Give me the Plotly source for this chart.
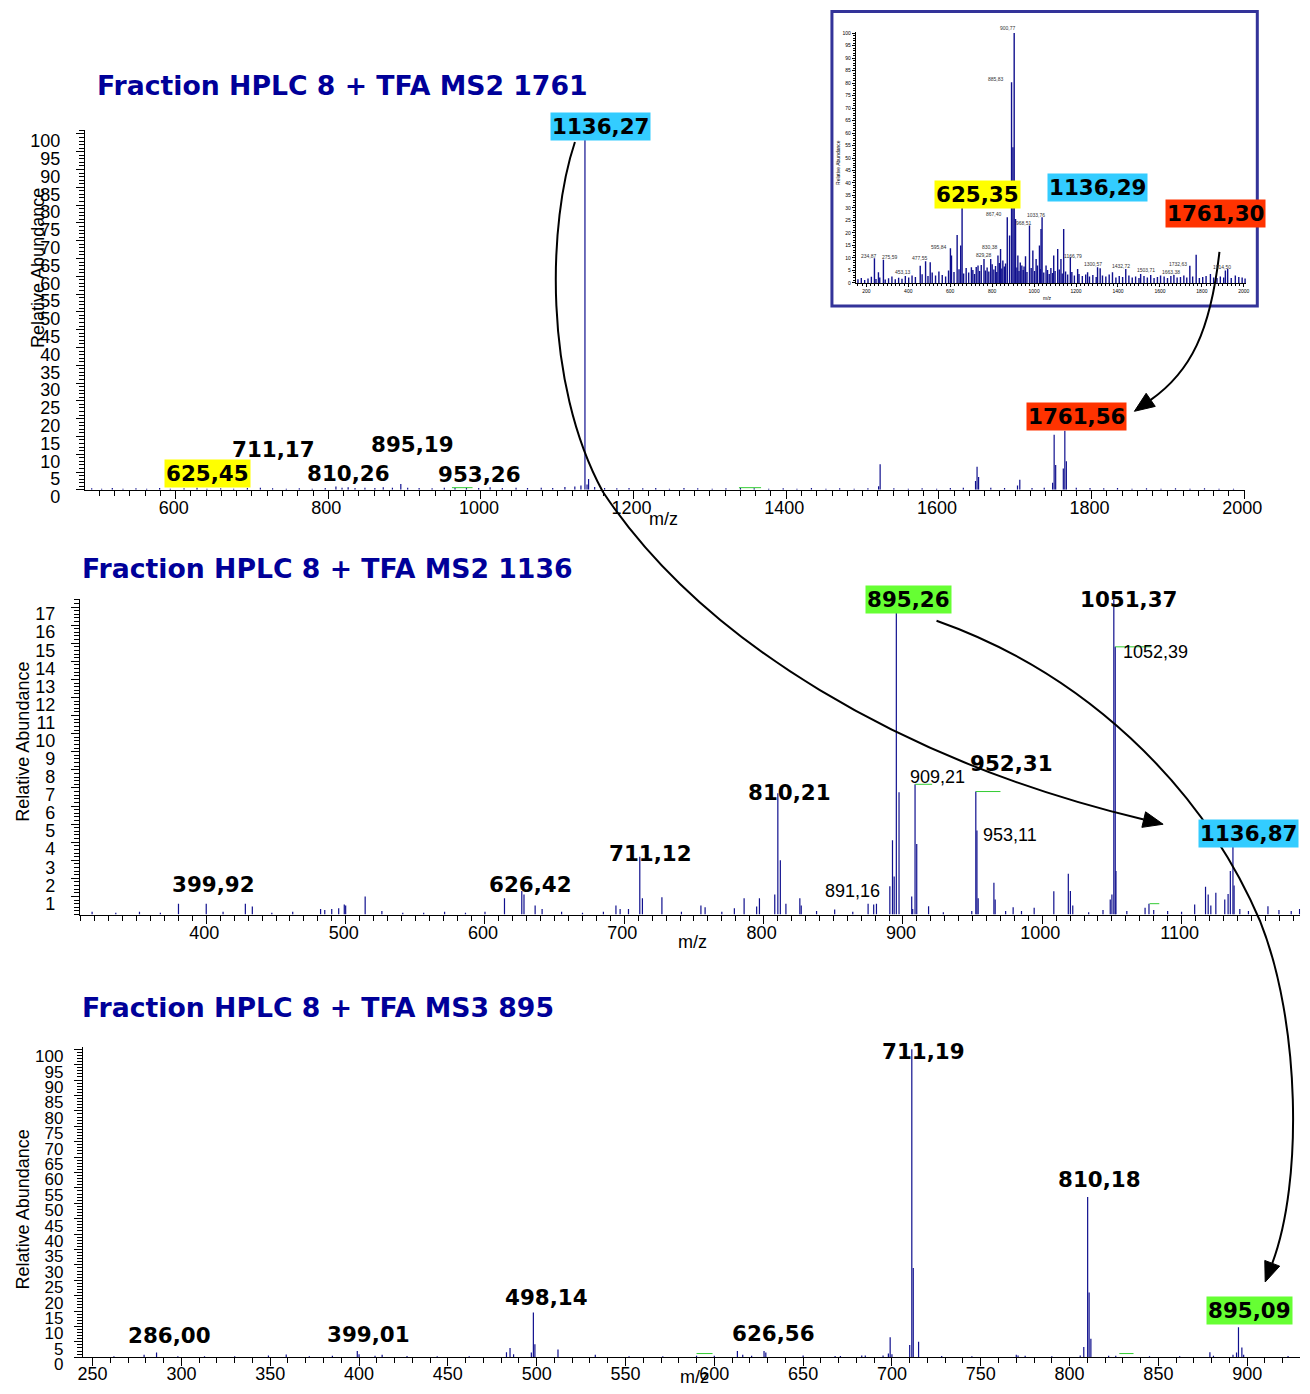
import plotly.graph_objects as go

# full-size figure; positions below are written in reference-picture pixels
W, H = 1310, 1394
S, OFF = 0.987, 7.9     # picture = S * (figure + 8)  (measured)

# ---------------- data ----------------
# Top panel: Fraction HPLC 8 + TFA MS2 1761
ms2_1761_mz = [490, 503, 517, 531, 548, 562, 579, 593, 611, 628, 641, 659, 676, 694, 711, 727, 745,
               762, 779, 796, 810, 818, 826, 835, 848, 861, 872, 884, 895, 904, 919, 936, 952, 966,
               981, 997, 1012, 1028, 1046, 1061, 1079, 1094, 1110, 1123, 1131, 1136.27, 1139, 1141,
               1149, 1162, 1178, 1194, 1212, 1229, 1247, 1266, 1284, 1303, 1321, 1340, 1358, 1377,
               1396, 1414, 1433, 1452, 1470, 1489, 1507, 1521, 1523, 1541, 1560, 1578, 1597, 1615,
               1632, 1648, 1650, 1652, 1668, 1686, 1703, 1706, 1722, 1738, 1749, 1751, 1753, 1763,
               1765, 1767, 1780, 1798, 1816, 1834, 1853, 1872, 1891, 1910, 1929, 1948, 1967, 1986]
ms2_1761_int = [0.4, 0.3, 0.5, 0.3, 0.4, 0.3, 0.5, 0.3, 0.4, 0.6, 0.3, 0.4, 0.3, 0.5, 0.6, 0.4, 0.3,
                0.4, 0.3, 0.5, 0.9, 0.6, 0.7, 0.5, 0.6, 0.5, 0.7, 0.6, 1.6, 0.6, 0.5, 0.4, 0.6, 0.5,
                0.6, 0.5, 0.7, 0.5, 0.6, 0.5, 0.6, 0.5, 0.8, 0.9, 1.2, 100, 1.5, 3.0,
                0.8, 0.5, 0.4, 0.5, 0.4, 0.5, 0.3, 0.5, 0.4, 0.3, 0.4, 0.5, 0.4, 0.3,
                0.4, 0.3, 0.5, 0.3, 0.4, 0.3, 0.4, 1.0, 7.2, 0.4, 0.3, 0.4, 0.3, 0.5,
                0.6, 2.5, 6.5, 3.6, 0.6, 0.5, 1.2, 2.8, 0.5, 0.6, 2.0, 15.5, 7.0, 6.0,
                16.6, 8.0, 0.6, 0.5, 0.4, 0.5, 0.3, 0.4, 0.3, 0.4, 0.3, 0.4, 0.3, 0.3]

# Middle panel: Fraction HPLC 8 + TFA MS2 1136
ms2_1136_mz = [318, 335, 352, 367, 380, 399.92, 412, 428, 433, 447, 462, 482, 485, 490, 495, 499,
               500, 514, 526, 541, 556, 571, 586, 600, 614, 626.42, 628, 636, 641, 655, 670, 685,
               694, 697, 703, 711.12, 713, 727, 741, 755, 758, 770, 779, 786, 795, 797, 808, 810.21,
               812, 816, 826, 827, 838, 851, 864, 875, 879, 881, 890.6, 892.5, 893.7, 895.26, 897.2,
               906.3, 907, 908.7, 909.9, 918.4, 929, 949.4, 952.31, 953.11, 954, 965.3, 966.2, 973.7,
               979.1, 985.1, 994.2, 1008.3, 1018.7, 1020.2, 1021.9, 1033.3, 1043.6, 1048.8, 1050,
               1051.37, 1052.39, 1052.9, 1060.7, 1073.8, 1076.6, 1080, 1090, 1100, 1109.4, 1117.2,
               1119.1, 1121, 1124.6, 1131, 1133.4, 1135, 1136.87, 1137.7, 1141.8, 1148, 1162,
               1169.9, 1178.7, 1184.7]
ms2_1136_int = [0.15, 0.1, 0.15, 0.1, 0.6, 0.6, 0.15, 0.6, 0.45, 0.1, 0.15, 0.3, 0.25, 0.3, 0.35, 0.55,
                0.5, 1.0, 0.2, 0.1, 0.1, 0.15, 0.1, 0.15, 0.9, 1.3, 1.1, 0.5, 0.3, 0.15, 0.1, 0.15,
                0.5, 0.3, 0.3, 3.2, 0.9, 0.95, 0.15, 0.5, 0.4, 0.15, 0.35, 0.9, 0.45, 0.9, 1.1, 6.7,
                3.0, 0.6, 0.9, 0.5, 0.2, 0.28, 0.15, 0.6, 0.55, 0.6, 1.56, 4.1, 2.1, 16.75, 6.76,
                1.0, 0.3, 7.2, 3.9, 0.46, 0.13, 0.2, 6.8, 4.64, 0.9, 1.75, 0.83, 0.2,
                0.4, 0.2, 0.37, 1.29, 2.25, 1.3, 0.5, 0.13, 0.25, 0.83, 1.1,
                17.4, 14.8, 2.4, 0.2, 0.37, 0.6, 0.25, 0.2, 0.15, 0.55, 1.53,
                1.1, 0.5, 1.2, 0.83, 1.14, 2.4, 3.8, 1.6, 0.3, 0.2, 0.46,
                0.25, 0.2, 0.3]

# Bottom panel: Fraction HPLC 8 + TFA MS3 895
ms3_895_mz = [262, 279, 286, 298, 313, 330, 349, 359, 372, 385, 399.01, 400, 409, 413, 427, 444, 462,
              483, 485, 487, 497, 498.14, 499, 512, 533, 552, 571, 590, 600, 613, 616, 621, 628, 629,
              650, 668, 671, 683, 685, 695, 698, 699, 700, 710, 711.19, 712, 715, 728, 745, 770, 771,
              775, 790, 806, 808, 810.18, 811, 812, 822, 826, 845, 862, 879, 881, 892, 894, 895.09,
              897, 898, 923]
ms3_895_int = [0.3, 0.8, 1.5, 0.3, 0.3, 0.3, 0.6, 0.9, 0.3, 0.5, 2.0, 1.0, 0.5, 0.8, 0.4, 0.3, 0.3,
               1.6, 3.0, 1.0, 1.5, 14.5, 4.2, 2.5, 0.8, 0.3, 0.3, 0.5, 0.5, 2.0, 0.8, 0.5, 2.0, 1.5,
               0.6, 0.4, 0.4, 0.6, 0.6, 0.6, 1.2, 6.5, 1.0, 4.0, 100, 29, 5.0, 0.4, 0.3, 0.8, 0.6,
               0.5, 0.3, 0.6, 3.3, 52, 21, 6.0, 0.5, 0.5, 0.3, 0.3, 1.6, 0.5, 0.8, 1.5, 9.7,
               3.2, 0.8, 0.4]

# Inset: full scan (MS1)
ms1_mz = [238.7, 257.7, 281.4, 457, 482.5, 504.6, 601, 606, 633, 650, 656.6, 701, 732.6, 761, 793,
          827.6, 840, 851, 872, 883, 892.5, 899, 905, 911.5, 922.5, 941.5, 959, 978, 994, 1009.6,
          1025.5, 1033, 1038, 1057, 1093.5, 1112.5, 1128, 1141, 1172.7, 1207.5, 1255, 1302.5, 1315,
          1373.7, 1437, 1508, 1603, 1666.6, 1742.6, 1772.7, 1840.7, 1912, 1923, 1959.5]
ms1_int = [9.9, 4.3, 9.3, 6.9, 8.7, 8.3, 13.9, 11, 19.2, 15, 30.3, 6.3, 7, 9.6, 9.6,
           11, 13.6, 9, 26.3, 19, 80.3, 54.3, 100, 25.6, 11, 7, 10.7, 23, 13, 9.6,
           15, 21.6, 26.3, 7, 11, 13.6, 9.6, 21.6, 10.3, 5.6, 4.3, 6.3, 5.9,
           4.3, 5.6, 3.6, 3, 3.2, 6.9, 11.3, 3.6, 5, 5.6, 3]
ms1_noise_mz = [160, 176, 192, 208, 224, 246, 264, 290, 306, 322, 338, 354, 370, 386, 402, 418, 434,
                466, 494, 514, 530, 546, 562, 578, 592, 618, 642, 664, 676, 688, 708, 716, 724, 740,
                748, 768, 776, 784, 800, 808, 816, 822, 834, 846, 858, 864, 918, 928, 934, 948, 952,
                966, 986, 1002, 1016, 1030, 1046, 1064, 1072, 1080, 1088, 1100, 1120, 1134, 1150,
                1160, 1180, 1192, 1214, 1230, 1246, 1264, 1280, 1296, 1326, 1342, 1358, 1390, 1406,
                1422, 1452, 1468, 1484, 1500, 1524, 1540, 1556, 1572, 1588, 1620, 1636, 1652, 1682,
                1698, 1714, 1728, 1756, 1788, 1804, 1820, 1856, 1872, 1888, 1904, 1940, 1976, 1992,
                2006]
ms1_noise_int = [1.5, 2.0, 1.2, 1.8, 2.5, 1.6, 2.2, 1.4, 1.9, 2.6, 1.5, 2.1, 1.7, 2.8, 2.2, 3.0, 2.4,
                 3.5, 2.8, 4.2, 3.0, 4.6, 3.2, 2.6, 5.0, 4.4, 5.5, 3.8, 6.0, 4.2, 5.2, 3.6, 6.4, 4.8,
                 7.2, 5.0, 6.2, 4.6, 7.5, 5.4, 6.8, 4.4, 8.0, 5.8, 6.6, 7.8, 6.2, 4.8, 8.2, 5.2, 6.6,
                 4.4, 6.0, 4.8, 7.0, 5.6, 4.2, 5.2, 3.6, 6.0, 4.0, 4.8, 5.4, 3.8, 4.6,
                 3.4, 4.4, 3.0, 3.6, 2.8, 3.4, 2.6, 3.2, 2.4, 3.0, 2.6, 3.4, 2.2, 2.8,
                 2.4, 3.0, 2.2, 2.6, 2.0, 2.8, 2.2, 3.2, 2.0, 2.4, 2.6, 2.0, 2.8, 2.2,
                 2.4, 3.0, 2.2, 2.6, 2.0, 2.4, 2.8, 2.2, 2.0, 2.6, 2.2, 2.0, 2.4, 2.2,
                 1.8]

# ---------------- helpers (picture pixels -> paper) ----------------
def fx(x):
    return ((x - OFF) / S) / W


def fy(y):
    return 1 - ((y - OFF) / S) / H


def px(x):
    return min(max(fx(x), 0), 1)


def py(y):
    return min(max(fy(y), 0), 1)


def P(x, y):
    return f"{fx(x):.5f},{fy(y):.5f}"


def sticks(mz, inten):
    xs, ys = [], []
    for m, i in zip(mz, inten):
        xs += [m, m, None]
        ys += [0, i, None]
    return xs, ys


def head(base, ctrl, length=20, half=8):
    dx, dy = base[0] - ctrl[0], base[1] - ctrl[1]
    n = (dx * dx + dy * dy) ** 0.5
    ux, uy = dx / n, dy / n
    tip = (base[0] + ux * length, base[1] + uy * length)
    a = (base[0] - uy * half, base[1] + ux * half)
    b = (base[0] + uy * half, base[1] - ux * half)
    return "M " + P(*tip) + " L " + P(*a) + " L " + P(*b) + " Z"


BLUE = "#10108e"
fig = go.Figure()

for mz, it, ax, w in [(ms2_1761_mz, ms2_1761_int, "", 1.2),
                      (ms2_1136_mz, ms2_1136_int, "2", 1.2),
                      (ms3_895_mz, ms3_895_int, "3", 1.2),
                      (ms1_noise_mz, ms1_noise_int, "4", 1.4),
                      (ms1_mz, ms1_int, "4", 1.4)]:
    xs, ys = sticks(mz, it)
    fig.add_trace(go.Scatter(x=xs, y=ys, mode="lines", line=dict(color=BLUE, width=w),
                             xaxis="x" + ax, yaxis="y" + ax, hoverinfo="skip"))

tickfont = dict(family="Liberation Sans", size=18, color="black")


def axis(domain, rng, vals, minor, anchor, font, tl, ml, shift, stand):
    return dict(domain=domain, range=rng, anchor=anchor, showline=True,
                linecolor="black", linewidth=1, ticks="outside", ticklen=tl, tickcolor="black",
                tickvals=vals, tickfont=font, showgrid=False, zeroline=False,
                ticklabelshift=shift, ticklabelstandoff=stand,
                minor=dict(ticks="outside", dtick=minor, tick0=0, ticklen=ml, tickcolor="black",
                           showgrid=False))


def xax(dom, rng, vals, minor, anchor, font=tickfont, tl=8, ml=5, shift=0, stand=-6):
    return axis([px(dom[0]), px(dom[1])], rng, vals, minor, anchor, font, tl, ml, shift, stand)


def yax(dom, rng, vals, minor, anchor, font=tickfont, tl=8, ml=5, shift=7, stand=12):
    return axis([py(dom[0]), py(dom[1])], rng, vals, minor, anchor, font, tl, ml, shift, stand)


small = dict(family="Liberation Sans", size=5, color="black")
fig.update_layout(
    width=W, height=H, margin=dict(l=0, r=0, t=0, b=0), showlegend=False,
    paper_bgcolor="white", plot_bgcolor="rgba(0,0,0,0)",
    xaxis=xax((80, 1245), [481, 2001.5], list(range(600, 2001, 200)), 20, "y", shift=-2),
    yaxis=yax((488, 128), [0, 101.1], list(range(0, 101, 5)), 1, "x"),
    xaxis2=xax((75, 1300), [309.2, 1185.1], list(range(400, 1101, 100)), 10, "y2", shift=-2),
    yaxis2=yax((913, 597), [0, 17.46], list(range(1, 18)), 0.2, "x2"),
    xaxis3=xax((78, 1300), [244.5, 929.8], list(range(250, 901, 50)), 10, "y3", stand=-8),
    yaxis3=yax((1356, 1046), [0, 100.6], list(range(0, 101, 5)), 1, "x3",
               font=dict(family="Liberation Sans", size=17, color="black"), stand=7),
    xaxis4=xax((854, 1246), [150, 2012], list(range(200, 2001, 200)), 20, "y4", font=small,
               tl=3, ml=2, stand=0),
    yaxis4=yax((281, 30), [0, 100.4], list(range(0, 101, 5)), 1, "x4", font=small, tl=3, ml=2,
               shift=0, stand=0),
)

# ---------------- annotations ----------------
ann = []
TITLE = dict(family="DejaVu Sans", size=26.7, color="#000099")
for txt, x, y in [("Fraction HPLC 8 + TFA MS2 1761", 90, 83),
                  ("Fraction HPLC 8 + TFA MS2 1136", 75, 567),
                  ("Fraction HPLC 8 + TFA MS3 895", 75, 1006)]:
    ann.append(dict(text="<b>" + txt + "</b>", x=px(x), y=py(y), xanchor="left", yanchor="middle",
                    font=TITLE))

BOLD = dict(family="DejaVu Sans", size=21.4, color="black")
peak_labels = [
    ("1136,27", 598, 124, "#33ccff"), ("711,17", 269, 448, None), ("895,19", 409, 443, None),
    ("625,45", 203, 472, "#ffff00"), ("810,26", 345, 472, None), ("953,26", 476, 473, None),
    ("1761,56", 1076, 415, "#ff3300"),
    ("895,26", 907, 598, "#66ff33"), ("1051,37", 1128, 598, None), ("952,31", 1010, 762, None),
    ("810,21", 787, 791, None), ("711,12", 648, 852, None), ("626,42", 527, 883, None),
    ("399,92", 209, 883, None), ("1136,87", 1248, 832, "#33ccff"),
    ("711,19", 922, 1050, None), ("810,18", 1099, 1178, None), ("498,14", 543, 1296, None),
    ("286,00", 165, 1334, None), ("399,01", 365, 1333, None), ("626,56", 771, 1332, None),
    ("895,09", 1249, 1309, "#66ff33"),
    ("625,35", 976, 193, "#ffff00"), ("1136,29", 1097, 186, "#33ccff"),
    ("1761,30", 1215, 212, "#ff3300"),
]
for txt, x, y, bg in peak_labels:
    a = dict(text="<b>" + txt + "</b>", x=px(x), y=py(y), xanchor="center", yanchor="middle",
             font=BOLD, borderpad=1)
    if bg:
        a["bgcolor"] = bg
    ann.append(a)

REG = dict(family="Liberation Sans", size=18, color="black")
for txt, x, y in [("1052,39", 1155, 650), ("909,21", 936, 775), ("953,11", 1009, 833),
                  ("891,16", 851, 889)]:
    ann.append(dict(text=txt, x=px(x), y=py(y), xanchor="center", yanchor="middle", font=REG))

for txt, x, y in [("900,77", 1007, 26), ("885,83", 995, 77), ("867,40", 993, 212),
                  ("1033,76", 1035, 213), ("968,51", 1023, 221), ("595,84", 937, 245),
                  ("830,38", 989, 245), ("829,28", 983, 253), ("234,87", 867, 254),
                  ("275,59", 888, 255), ("477,55", 918, 256), ("453,13", 901, 270),
                  ("1166,79", 1072, 254), ("1300,57", 1092, 262), ("1432,72", 1120, 264),
                  ("1503,71", 1145, 268), ("1663,38", 1170, 270), ("1732,63", 1177, 262),
                  ("1914,50", 1222, 265)]:
    ann.append(dict(text=txt, x=px(x), y=py(y), xanchor="center", yanchor="middle",
                    font=dict(family="Liberation Sans", size=5, color="#333333")))

# axis titles
for x, y in [(661, 517), (690, 940), (692, 1376)]:
    ann.append(dict(text="m/z", x=px(x), y=py(y), xanchor="center", yanchor="middle", font=REG))
for x, y in [(33, 266), (18, 740), (18, 1208)]:
    ann.append(dict(text="Relative Abundance", x=px(x), y=py(y), xanchor="center",
                    yanchor="middle", textangle=-90, font=REG))
ann.append(dict(text="m/z", x=px(1046), y=py(296), font=small, xanchor="center", yanchor="middle"))
ann.append(dict(text="Relative Abundance", x=px(836), y=py(160), font=small, textangle=-90,
                xanchor="center", yanchor="middle"))
for a in ann:
    a.update(xref="paper", yref="paper", showarrow=False)
fig.update_layout(annotations=ann)

# ---------------- shapes ----------------
shapes = [dict(type="rect", xref="paper", yref="paper", x0=px(830), x1=px(1257), y0=py(304),
               y1=min(py(4), 1 - 1.5 / H), line=dict(color="#333399", width=3),
               fillcolor="rgba(0,0,0,0)")]

# green leader lines (data coords)
for ax, x0, x1, y in [("2", 1052.4, 1078, 14.8), ("2", 908.7, 921, 7.2), ("2", 952.3, 970, 6.8),
                      ("2", 1077, 1084, 0.6), ("", 962, 989, 0.6), ("", 1338, 1367, 0.6),
                      ("3", 590, 599, 1.2), ("3", 828, 836, 1.2)]:
    shapes.append(dict(type="line", xref="x" + ax, yref="y" + ax, x0=x0, x1=x1, y0=y, y1=y,
                       line=dict(color="#33cc33", width=1)))

ARROW = dict(color="black", width=2)
curves = [
    ("M " + P(572, 140) + " C " + P(545, 220) + " " + P(540, 380) + " " + P(600, 490)
     + " C " + P(700, 640) + " " + P(900, 760) + " " + P(1143, 818), (1143, 818), (900, 760)),
    ("M " + P(1219, 250) + " C " + P(1210, 330) + " " + P(1190, 370) + " " + P(1150, 398),
     (1150, 398), (1190, 370)),
    ("M " + P(935, 619) + " C " + P(1080, 670) + " " + P(1200, 780) + " " + P(1260, 920)
     + " C " + P(1300, 1020) + " " + P(1303, 1180) + " " + P(1272, 1262), (1272, 1262),
     (1303, 1180)),
]
for path, base, ctrl in curves:
    shapes.append(dict(type="path", xref="paper", yref="paper", path=path, line=ARROW))
    shapes.append(dict(type="path", xref="paper", yref="paper", path=head(base, ctrl),
                       fillcolor="black", line=dict(color="black", width=1)))
fig.update_layout(shapes=shapes)

fig.write_html("out.html")
